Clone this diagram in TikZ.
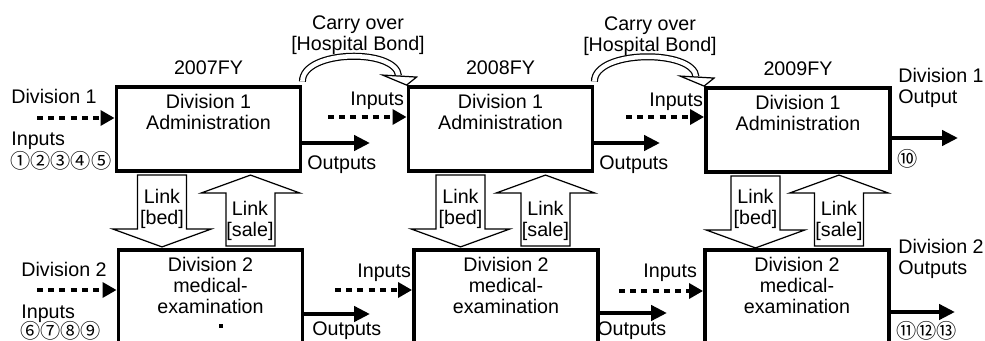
\documentclass[tikz,border=0pt]{standalone}
\usepackage{fontspec}
\setmainfont{Liberation Sans}
\newfontfamily\circfont{Noto Sans CJK JP}
\usetikzlibrary{positioning,arrows.meta}

\tikzset{
	divbox/.style={draw, line width=2.2pt, inner sep=0pt, minimum width=3.68cm},
	boxtext/.style={align=center, inner sep=0pt, font=\fontsize{11.2}{12}\selectfont},
	lbl/.style={inner sep=0pt, font=\fontsize{11.2}{12}\selectfont},
	circ/.style={inner sep=0pt, anchor=west, font=\circfont\fontsize{11.5}{12}\selectfont},
	inarrow/.style={line width=2.3pt, dash pattern=on 3.4pt off 3pt, -{Triangle[length=8pt,width=8.5pt]}},
	outarrow/.style={line width=2.3pt, -{Triangle[length=9pt,width=8.5pt]}},
	linkarrow/.style={draw, fill=white, line width=0.7pt, line join=miter},
	carry/.style={draw, double=white, double distance=2.6pt, line width=0.7pt},
}

\begin{document}
\begin{tikzpicture}[x=0.02cm, y=-0.02cm]
		\useasboundingbox (0,0) rectangle (985,341);
		\node[divbox, minimum height=1.68cm] (d1a07) at (208.5,129) {};
		\node[divbox, minimum height=1.68cm] (d1a08) at (500.5,129) {};
		\node[divbox, minimum height=1.68cm] (d1a09) at (798,130) {};
		\node[divbox, minimum height=2.04cm] (d2m07) at (210.5,301) {};
		\node[divbox, minimum height=2.04cm] (d2m08) at (506,301) {};
		\node[divbox, minimum height=2.04cm] (d2m09) at (797,301) {};
		\node[lbl, above=5.5pt of d1a07.north] (fy07) {2007FY};
		\node[lbl, above=5.5pt of d1a08.north] (fy08) {2008FY};
		\node[lbl, above=5.5pt of d1a09.north] (fy09) {2009FY};
		\node[boxtext, below=5pt of d1a07.north] (t1a07) {Division 1\\Administration};
		\node[boxtext, below=5pt of d1a08.north] (t1a08) {Division 1\\Administration};
		\node[boxtext, below=5pt of d1a09.north] (t1a09) {Division 1\\Administration};
		\node[boxtext, below=5pt of d2m07.north] (t2m07) {Division 2\\medical-\\examination};
		\node[boxtext, below=5pt of d2m08.north] (t2m08) {Division 2\\medical-\\examination};
		\node[boxtext, below=5pt of d2m09.north] (t2m09) {Division 2\\medical-\\examination};
		\fill (219,324) rectangle (223,328);
		\draw[linkarrow] (d1a07.south) ++(-71,2) -- ++(0,54) -- ++(-25,0) -- ++(49.5,18) -- ++(49.5,-18) -- ++(-25,0) -- ++(0,-54) -- cycle;
		\draw[linkarrow] (d1a08.south) ++(-64.5,2) -- ++(0,54) -- ++(-25,0) -- ++(49.5,18) -- ++(49.5,-18) -- ++(-25,0) -- ++(0,-54) -- cycle;
		\draw[linkarrow] (d1a09.south) ++(-67,2) -- ++(0,54) -- ++(-25,0) -- ++(49.5,18) -- ++(49.5,-18) -- ++(-25,0) -- ++(0,-54) -- cycle;
		\draw[linkarrow] (d2m07.north) ++(15.5,-2) -- ++(0,-53) -- ++(-25,0) -- ++(49.5,-18) -- ++(49.5,18) -- ++(-25,0) -- ++(0,53) -- cycle;
		\draw[linkarrow] (d2m08.north) ++(15,-2) -- ++(0,-53) -- ++(-25,0) -- ++(49.5,-18) -- ++(49.5,18) -- ++(-25,0) -- ++(0,53) -- cycle;
		\draw[linkarrow] (d2m09.north) ++(17.5,-2) -- ++(0,-53) -- ++(-25,0) -- ++(49.5,-18) -- ++(49.5,18) -- ++(-25,0) -- ++(0,53) -- cycle;
		\node[boxtext] (bed07) at (162,208.5) {Link\\{}[bed]};
		\node[boxtext] (bed08) at (460.5,208.5) {Link\\{}[bed]};
		\node[boxtext] (bed09) at (755.5,208.5) {Link\\{}[bed]};
		\node[boxtext] (sale07) at (250,221) {Link\\{}[sale]};
		\node[boxtext] (sale08) at (545.5,221) {Link\\{}[sale]};
		\node[boxtext] (sale09) at (839,221) {Link\\{}[sale]};
		\draw[carry] ([yshift=2pt]d1a07.north east) .. controls +(0,-32) and +(-2,-28) .. ([shift={(-8,-9)}]d1a08.north west);
		\draw[linkarrow] (d1a08.north west) -- ++(-24,-10) -- ++(34,2) -- cycle;
		\draw[carry] ([yshift=2pt]d1a08.north east) .. controls +(0,-32) and +(-2,-28) .. ([shift={(-8,-9)}]d1a09.north west);
		\draw[linkarrow] (d1a09.north west) -- ++(-24,-10) -- ++(34,2) -- cycle;
		\node[boxtext] (co1) at (358,35.5) {Carry over\\{}[Hospital Bond]};
		\node[boxtext] (co2) at (650,36.5) {Carry over\\{}[Hospital Bond]};
		\coordinate (in07a) at (37,118);
		\coordinate (in07m) at (37,290);
		\coordinate (in08a) at (328,117);
		\coordinate (in08m) at (335,290);
		\coordinate (in09a) at (626,117);
		\coordinate (in09m) at (619,291);
		\draw[inarrow] (in07a) -- (in07a -| d1a07.west);
		\draw[inarrow] (in07m) -- (in07m -| d2m07.west);
		\draw[inarrow] (in08a) -- (in08a -| d1a08.west);
		\draw[inarrow] (in08m) -- (in08m -| d2m08.west);
		\draw[inarrow] (in09a) -- (in09a -| d1a09.west);
		\draw[inarrow] (in09m) -- (in09m -| d2m09.west);
		\coordinate (out07a) at (370,143);
		\coordinate (out07m) at (370,314);
		\coordinate (out08a) at (660,143);
		\coordinate (out08m) at (667,313);
		\coordinate (out09a) at (958,138);
		\coordinate (out09m) at (955,312);
		\draw[outarrow] (out07a -| d1a07.east) -- (out07a);
		\draw[outarrow] (out07m -| d2m07.east) -- (out07m);
		\draw[outarrow] (out08a -| d1a08.east) -- (out08a);
		\draw[outarrow] (out08m -| d2m08.east) -- (out08m);
		\draw[outarrow] (out09a -| d1a09.east) -- (out09a);
		\draw[outarrow] (out09m -| d2m09.east) -- (out09m);
		\node[lbl, anchor=base west] (div1) at (11,103.5) {Division 1};
		\node[lbl, anchor=base west] (inp1) at (11,146) {Inputs};
		\node[circ] (n1) at (10,160.5) {①②③④⑤};
		\node[lbl, anchor=base west] (div2) at (21,276) {Division 2};
		\node[lbl, anchor=base west] (inp2) at (21,318) {Inputs};
		\node[circ] (n2) at (20,331) {⑥⑦⑧⑨};
		\node[lbl, anchor=base west] (inp08a) at (350,106) {Inputs};
		\node[lbl, anchor=base west] (inp08m) at (357,277) {Inputs};
		\node[lbl, anchor=base west] (inp09a) at (649,107) {Inputs};
		\node[lbl, anchor=base west] (inp09m) at (643,277) {Inputs};
		\node[lbl, anchor=base west] (outp07a) at (307,170) {Outputs};
		\node[lbl, anchor=base west] (outp07m) at (312,336) {Outputs};
		\node[lbl, anchor=base west] (outp08a) at (599,170) {Outputs};
		\node[lbl, anchor=base west] (outp08m) at (597,336) {Outputs};
		\node[boxtext, align=left, anchor=base west] (res1) at (898,104) {Division 1\\Output};
		\node[circ] (n3) at (897,159) {⑩};
		\node[boxtext, align=left, anchor=base west] (res2) at (898,275) {Division 2\\Outputs};
		\node[circ] (n4) at (896,331) {⑪⑫⑬};
\end{tikzpicture}
\end{document}
